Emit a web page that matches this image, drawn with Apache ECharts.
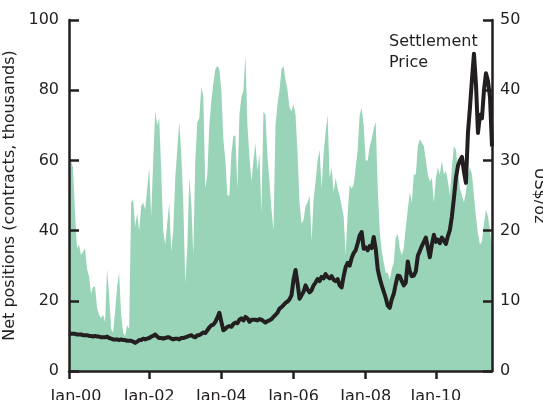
<!DOCTYPE html>
<html>
<head>
<meta charset="utf-8">
<script src="https://cdn.jsdelivr.net/npm/echarts@6/dist/echarts.min.js"></script>
<style>
  html, body { margin: 0; padding: 0; background: #fff; }
  #chart { width: 543px; height: 400px; }
</style>
</head>
<body>
<div id="chart"></div>
<script>
// net positions, thousands of contracts (sampled ~every 3 weeks, Jan-00 .. mid-11)
const netPositions = [
  52, 60, 58, 45, 35, 36, 33, 34, 35, 29,
  27, 22, 24, 24, 18, 16, 15, 16, 14, 29,
  22, 12, 11, 17, 24, 28, 16, 11, 10, 13,
  12, 48, 49, 41, 45, 40, 47, 48, 46, 52,
  58, 44, 60, 74, 70, 72, 57, 40, 36, 42,
  48, 34, 40, 55, 63, 71, 62, 48, 25, 35,
  55, 48, 33, 60, 71, 72, 81, 78, 52, 56,
  70, 77, 82, 86, 87, 86, 80, 66, 60, 50,
  50, 62, 67, 67, 52, 73, 78, 80, 90, 70,
  61, 54, 60, 65, 57, 62, 45, 74, 73, 61,
  54, 46, 40, 70, 76, 80, 86, 87, 83, 80,
  75, 74, 76, 73, 62, 48, 42, 43, 47, 48,
  50, 37, 49, 54, 60, 63, 52, 62, 68, 73,
  55, 58, 51, 55, 52, 50, 47, 44, 33, 45,
  53, 52, 53, 58, 63, 73, 75, 70, 60, 60,
  64, 66, 69, 71, 52, 40, 34, 31, 28, 28,
  26, 29, 31, 38, 39, 35, 33, 35, 41, 46,
  51, 48, 56, 56, 64, 66, 65, 64, 60, 56,
  54, 55, 48, 55, 58, 56, 60, 56, 57, 54,
  50, 58, 64, 63, 57, 52, 50, 48, 51, 56,
  58, 56, 50, 44, 39, 36, 37, 42, 46, 44,
  40, 35
];

// settlement price, US$/oz
const price = [
  5.4, 5.3, 5.3, 5.3, 5.2, 5.2, 5.2, 5.1, 5.1, 5.1,
  5.0, 5.0, 4.9, 5.0, 4.9, 4.9, 4.8, 4.8, 4.8, 4.9,
  4.7, 4.6, 4.5, 4.5, 4.5, 4.4, 4.5, 4.4, 4.4, 4.3,
  4.3, 4.3, 4.2, 4.0, 4.2, 4.4, 4.4, 4.6, 4.5, 4.6,
  4.7, 4.9, 5.0, 5.2, 4.9, 4.7, 4.7, 4.6, 4.7, 4.8,
  4.8, 4.6, 4.5, 4.6, 4.6, 4.5, 4.7, 4.7, 4.8, 4.9,
  5.0, 5.1, 4.9, 4.8, 5.1, 5.1, 5.3, 5.5, 5.4, 5.8,
  6.2, 6.5, 6.6, 7.0, 7.6, 8.3, 7.0, 5.8, 6.0, 6.3,
  6.4, 6.3, 6.7, 6.9, 6.8, 7.3, 7.5, 7.2, 7.7, 7.5,
  7.0, 7.3, 7.3, 7.3, 7.2, 7.4, 7.3, 7.1, 6.9, 7.1,
  7.2, 7.4, 7.7, 8.0, 8.3, 8.9, 9.1, 9.4, 9.7, 9.9,
  10.2, 10.8, 13.0, 14.4, 12.5, 10.3, 10.8, 11.3, 12.2, 11.6,
  11.2, 11.5, 12.2, 12.6, 13.1, 12.8, 13.4, 13.2, 13.8, 13.4,
  13.2, 13.5, 13.0, 12.8, 13.1, 12.2, 11.9, 13.5, 14.8, 15.4,
  15.0, 16.1, 16.8, 17.2, 18.2, 19.3, 19.8, 17.4, 17.6, 17.2,
  17.8, 17.5, 19.1, 17.4, 14.5, 13.2, 12.2, 11.3, 10.4, 9.3,
  9.0, 10.2, 11.0, 12.4, 13.6, 13.5, 12.8, 12.2, 12.6, 15.6,
  14.2, 13.5, 13.6, 14.2, 16.4, 17.1, 17.8, 18.4, 19.0, 17.6,
  16.2, 18.0, 19.4, 18.4, 18.7, 18.2, 19.0, 18.6, 18.1, 19.2,
  20.1, 22.0, 24.6, 27.5, 29.2, 30.0, 30.5, 28.4, 26.8, 33.9,
  37.5, 41.5, 45.2, 40.9, 33.9, 36.5, 36.0, 40.0, 42.4, 41.3,
  39.0, 32.0
];

const tickLabels = ['Jan-00', 'Jan-02', 'Jan-04', 'Jan-06', 'Jan-08', 'Jan-10'];
const tickIndex = [0, 40, 76, 112, 148, 183];

const categories = netPositions.map((v, i) => {
  const k = tickIndex.indexOf(i);
  return k >= 0 ? tickLabels[k] : '';
});

const ink = '#231f20';
const font = 'DejaVu Sans';
const showTick = (i, v) => v !== '';

const chart = echarts.init(document.getElementById('chart'));

const option = {
  animation: false,
  textStyle: { fontFamily: font, color: ink },
  grid: {
    left: 69, right: 51, top: 20, bottom: 29,
    containLabel: false,
    outerBoundsMode: 'none'
  },
  xAxis: {
    type: 'category',
    data: categories,
    boundaryGap: false,
    axisLine: { lineStyle: { color: ink, width: 2.5 } },
    axisTick: { interval: showTick, length: 8, lineStyle: { color: ink, width: 2.5 } },
    axisLabel: {
      interval: showTick,
      color: ink,
      fontSize: 16,
      fontFamily: font,
      margin: 18,
      // first label sits a little right of its tick, as in the original
      formatter: (v, i) => (i === 0 ? '{first|' + v + '}' : v),
      rich: { first: { fontSize: 16, fontFamily: font, color: ink, padding: [0, 0, 0, 14] } }
    },
    splitLine: { show: false },
    z: 10
  },
  yAxis: [
    {
      type: 'value',
      min: 0,
      max: 100,
      interval: 20,
      name: 'Net positions (contracts, thousands)',
      nameLocation: 'middle',
      nameGap: 39,
      nameTextStyle: { fontSize: 16, color: ink, fontFamily: font },
      axisLine: { show: true, lineStyle: { color: ink, width: 2.5 } },
      axisTick: { show: true, inside: true, length: 10, lineStyle: { color: ink, width: 2.5 } },
      axisLabel: { color: ink, fontSize: 16, fontFamily: font, margin: 10 },
      splitLine: { show: false },
      z: 10
    },
    {
      type: 'value',
      min: 0,
      max: 50,
      interval: 10,
      position: 'right',
      name: 'US$/oz',
      nameLocation: 'middle',
      nameRotate: -90,
      nameGap: 35,
      nameTextStyle: { fontSize: 16, color: ink, fontFamily: font },
      axisLine: { show: true, lineStyle: { color: ink, width: 2.5 } },
      axisTick: { show: true, inside: true, length: 9, lineStyle: { color: ink, width: 2.5 } },
      axisLabel: { color: ink, fontSize: 16, fontFamily: font, margin: 8 },
      splitLine: { show: false },
      z: 10
    }
  ],
  graphic: [
    {
      type: 'text',
      left: 389,
      top: 31,
      style: {
        text: 'Settlement\nPrice',
        font: '16px "DejaVu Sans"',
        fill: ink,
        lineHeight: 21
      }
    }
  ],
  series: [
    {
      name: 'Net positions',
      type: 'line',
      data: netPositions,
      yAxisIndex: 0,
      symbol: 'none',
      lineStyle: { width: 0 },
      areaStyle: { color: '#99d4b9', opacity: 1 },
      z: 1
    },
    {
      name: 'Settlement Price',
      type: 'line',
      data: price,
      yAxisIndex: 1,
      symbol: 'none',
      lineStyle: { color: ink, width: 4, join: 'round' },
      z: 3
    }
  ]
};

chart.setOption(option);
</script>
</body>
</html>
